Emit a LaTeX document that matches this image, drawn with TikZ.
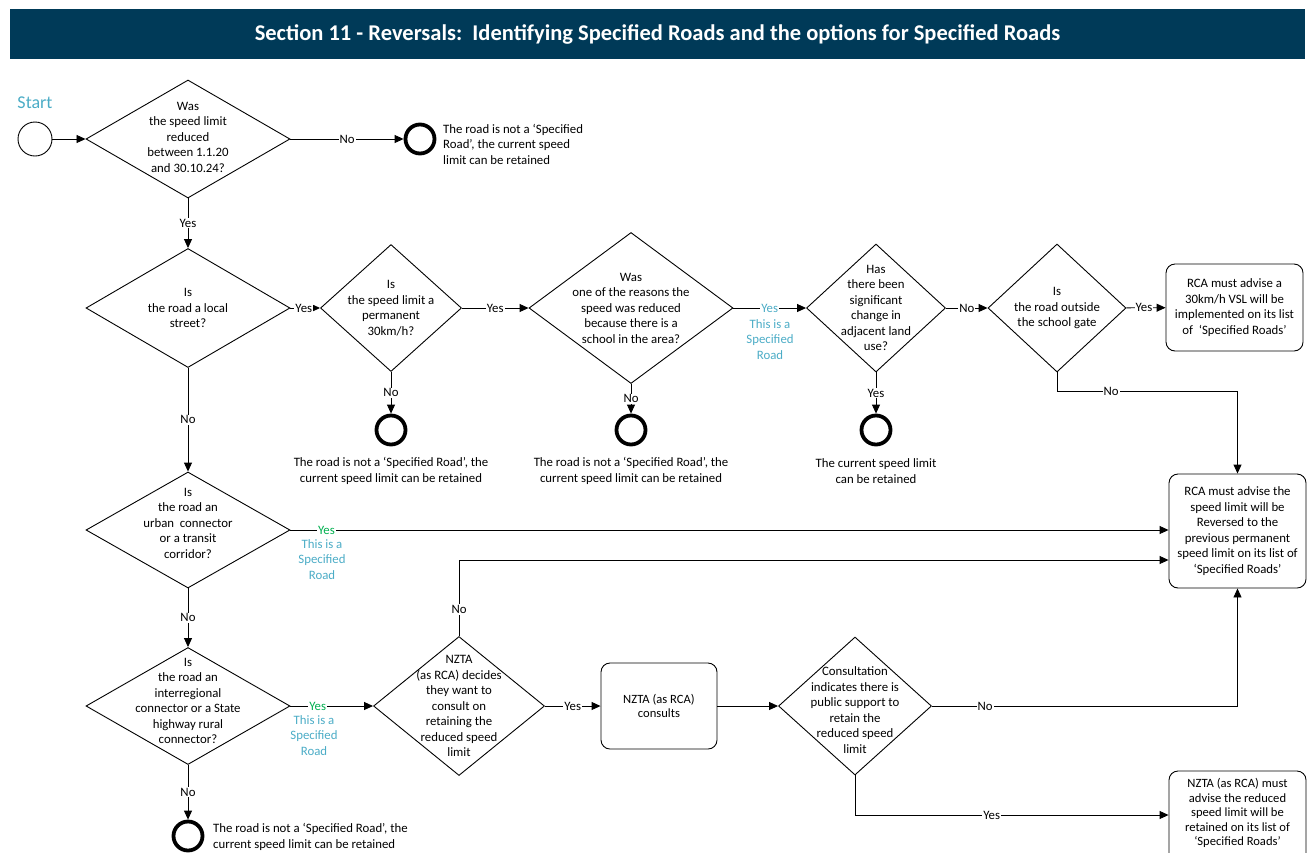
\documentclass[tikz,border=0pt]{standalone}
\usepackage{fontspec}
\setmainfont{Carlito}
\usetikzlibrary{shapes.geometric,arrows.meta}
\definecolor{navy}{HTML}{003A58}
\definecolor{sky}{HTML}{4BACC6}
\definecolor{yesgreen}{HTML}{00B050}
\begin{document}
\begin{tikzpicture}[x=1pt,y=-1pt,
  txt/.style={font=\fontsize{12.8}{15.5}\selectfont, align=center, inner sep=0pt},
  ctxt/.style={font=\fontsize{12.6}{14.5}\selectfont, align=center, inner sep=0pt},
  dia/.style={draw, diamond, inner sep=0pt, line width=0.9pt},
  endc/.style={draw, circle, inner sep=0pt, line width=3.8pt, minimum size=29pt},
  rbox/.style={draw, rectangle, rounded corners=9pt, inner sep=0pt, line width=0.9pt},
  arr/.style={-{Triangle[length=9pt,width=8pt]}, line width=0.9pt},
  lab/.style={fill=white, inner sep=1pt, font=\fontsize{12.8}{15.5}\selectfont},
  sptxt/.style={text=sky, align=center, inner sep=0pt, font=\fontsize{12.8}{15.5}\selectfont},
]
\useasboundingbox (0,0) rectangle (1311,852);
% title
\fill[navy] (10,9) rectangle (1305,59);
\node[font=\bfseries\fontsize{22.5}{24}\selectfont, text=white] (title) at (657.5,34.5) {Section 11 - Reversals:\ \ Identifying Specified Roads and the options for Specified Roads};
% start
\node[text=sky, font=\fontsize{18}{20}\selectfont] (startlbl) at (35,103) {Start};
\node[draw, circle, line width=0.9pt, minimum size=34pt] (start) at (35,139) {};
% row 1
\node[dia, minimum width=204pt, minimum height=118pt] (d1) at (188,139) {};
\node[txt] (d1t) at (188,137) {Was\\the speed limit\\reduced\\between 1.1.20\\and 30.10.24?};
\node[endc] (e1) at (420,139) {};
\node[txt, align=left, anchor=west] (e1t) at (443,144) {The road is not a ‘Specified\\Road’, the current speed\\limit can be retained};
% row 2
\node[dia, minimum width=204pt, minimum height=119pt] (d2) at (188,308) {};
\node[txt] (d2t) at (188,308) {Is\\the road a local\\street?};
\node[dia, minimum width=141pt, minimum height=127pt] (d3) at (391,308) {};
\node[txt] (d3t) at (391,308) {Is\\the speed limit a\\permanent\\30km/h?};
\node[endc] (e2) at (391,430) {};
\node[txt] (e2t) at (391,471) {The road is not a ‘Specified Road’, the\\current speed limit can be retained};
\node[dia, minimum width=204pt, minimum height=151pt] (d4) at (631,308) {};
\node[txt] (d4t) at (631,308) {Was\\one of the reasons the\\speed was reduced\\because there is a\\school in the area?};
\node[endc] (e3) at (631,430) {};
\node[txt] (e3t) at (631,471) {The road is not a ‘Specified Road’, the\\current speed limit can be retained};
\node[dia, minimum width=139pt, minimum height=128pt] (d5) at (876,308) {};
\node[txt] (d5t) at (876,308) {Has\\there been\\significant\\change in\\adjacent land\\use?};
\node[endc] (e4) at (876,430) {};
\node[txt] (e4t) at (876,471) {The current speed limit\\can be retained};
\node[dia, minimum width=138pt, minimum height=128pt] (d6) at (1057,308) {};
\node[txt] (d6t) at (1057,308) {Is\\the road outside\\the school gate};
\node[rbox, minimum width=137pt, minimum height=87pt, txt] (b1) at (1234.5,307.5) {RCA must advise a\\30km/h VSL will be\\implemented on its list\\of\ \ ‘Specified Roads’};
% right column
\node[rbox, minimum width=137pt, minimum height=114pt, txt] (b2) at (1237.5,531) {RCA must advise the\\speed limit will be\\Reversed to the\\previous permanent\\speed limit on its list of\\‘Specified Roads’};
% row 3
\node[dia, minimum width=204pt, minimum height=116pt] (d7) at (188,530) {};
\node[txt] (d7t) at (188,523) {Is\\the road an\\urban\ \ connector\\or a transit\\corridor?};
% row 4
\node[dia, minimum width=204pt, minimum height=117pt] (d8) at (188,706) {};
\node[txt] (d8t) at (188,701) {Is\\the road an\\interregional\\connector or a State\\highway rural\\connector?};
\node[endc] (e5) at (188,836) {};
\node[txt, align=left, anchor=west] (e5t) at (213,837) {The road is not a ‘Specified Road’, the\\current speed limit can be retained};
\node[dia, minimum width=171pt, minimum height=139pt] (d9) at (459,706) {};
\node[txt] (d9t) at (459,706) {NZTA\\(as RCA) decides\\they want to\\consult on\\retaining the\\reduced speed\\limit};
\node[rbox, minimum width=116pt, minimum height=86pt, ctxt] (b3) at (659,706) {NZTA (as RCA)\\consults};
\node[dia, minimum width=153pt, minimum height=138pt] (d10) at (855,706) {};
\node[txt] (d10t) at (855,710) {Consultation\\indicates there is\\public support to\\retain the\\reduced speed\\limit};
\begin{scope}
\clip (0,0) rectangle (1311,852);
\node[rbox, minimum width=137pt, minimum height=100pt] (b4) at (1237.5,821) {};
\end{scope}
\node[ctxt] (b4t) at (1237.5,813) {NZTA (as RCA) must\\advise the reduced\\speed limit will be\\retained on its list of\\‘Specified Roads’};
% connectors
\draw[arr] (start) -- (d1);
\draw[arr] (d1) -- node[lab]{No} (e1);
\draw[arr] (d1) -- node[lab]{Yes} (d2);
\draw[arr] (d2) -- node[lab, pos=0.45]{Yes} (d3);
\draw[arr] (d3) -- node[lab]{Yes} (d4);
\draw[arr] (d3) -- node[lab]{No} (e2);
\draw[arr] (d4) -- node[lab]{No} (e3);
\draw[arr] (d4) -- node[lab, text=sky]{Yes} (d5);
\node[sptxt] (sp1) at (770,339.5) {This is a\\Specified\\Road};
\draw[arr] (d5) -- node[lab]{Yes} (e4);
\draw[arr] (d5) -- node[lab]{No} (d6);
\draw[arr] (d6) -- node[lab, pos=0.45]{Yes} (b1);
\draw[arr] (d6.south) -- ++(0,19) -| node[lab, pos=0.15]{No} (b2.north);
\draw[arr] (d2) -- node[lab]{No} (d7);
\draw[arr] (d7.east) -- node[lab, text=yesgreen, pos=0.041]{Yes} (d7.east -| b2.west);
\node[sptxt] (sp2) at (322,559.5) {This is a\\Specified\\Road};
\draw[arr] (d7) -- node[lab]{No} (d8);
\draw[arr] (d8) -- node[lab, text=yesgreen, pos=0.33]{Yes} (d9);
\node[sptxt] (sp3) at (314,735.5) {This is a\\Specified\\Road};
\draw[arr] (d8) -- node[lab]{No} (e5);
\draw[arr] (d9.north) |- node[lab, pos=0.175]{No} (b2.west |- 0,560);
\draw[arr] (d9) -- node[lab]{Yes} (b3);
\draw[arr] (b3) -- (d10);
\draw[arr] (d10.east) -| node[lab, pos=0.087]{No} (b2.south);
\draw[arr] (d10.south) |- node[lab, pos=0.718]{Yes} (b4.west |- 0,815);
\end{tikzpicture}
\end{document}
